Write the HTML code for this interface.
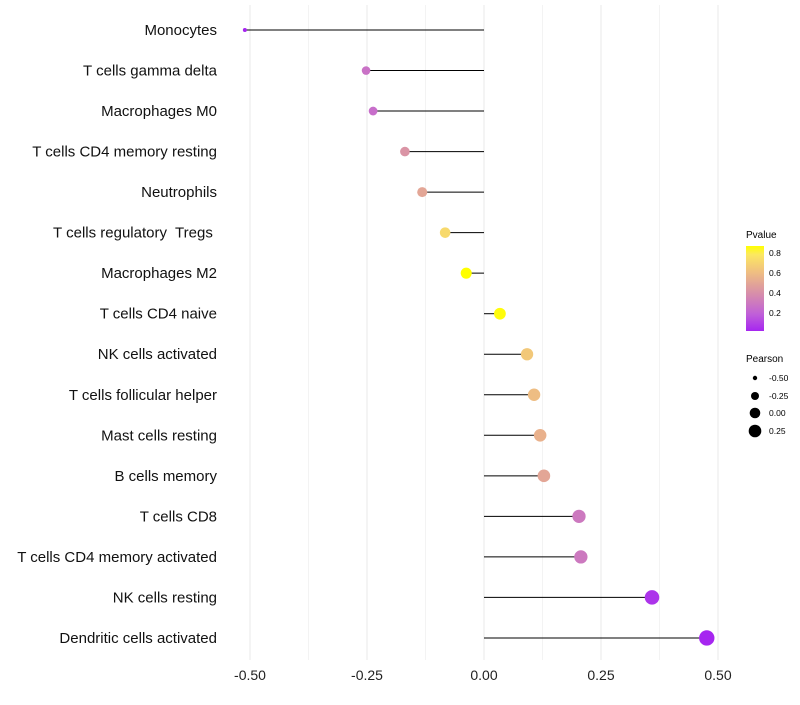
<!DOCTYPE html>
<html><head><meta charset="utf-8"><style>
body{margin:0;background:#fff;font-family:"Liberation Sans",sans-serif}
svg text{font-family:"Liberation Sans",sans-serif;white-space:pre}
</style></head><body>
<svg id="chart" width="800" height="700">
<defs><linearGradient id="pg" x1="0" y1="1" x2="0" y2="0">
<stop offset="0" stop-color="#A626F0"/><stop offset="0.2" stop-color="#C060D8"/><stop offset="0.45" stop-color="#D890A8"/><stop offset="0.7" stop-color="#F0C080"/><stop offset="0.9" stop-color="#FCE860"/><stop offset="1" stop-color="#FFFF00"/></linearGradient></defs>
<g id="grid"></g><g id="marks"></g><g id="ylab"></g><g id="xlab"></g>
<g>
<text x="746" y="238" font-size="10" fill="#000">Pvalue</text>
<rect x="746" y="246" width="18" height="85" fill="url(#pg)"/>
<text x="769" y="256" font-size="8.5">0.8</text><text x="769" y="276" font-size="8.5">0.6</text>
<text x="769" y="296" font-size="8.5">0.4</text><text x="769" y="316" font-size="8.5">0.2</text>
</g>
<g>
<text x="746" y="362" font-size="10">Pearson</text>
<circle cx="755" cy="378" r="2.2"/><text x="769" y="381" font-size="8.5">-0.50</text>
<circle cx="755" cy="396" r="4"/><text x="769" y="399" font-size="8.5">-0.25</text>
<circle cx="755" cy="413" r="5.3"/><text x="769" y="416" font-size="8.5">0.00</text>
<circle cx="755" cy="431" r="6.3"/><text x="769" y="434" font-size="8.5">0.25</text>
</g>
</svg>
<script>
const cells=["Monocytes","T cells gamma delta","Macrophages M0","T cells CD4 memory resting","Neutrophils","T cells regulatory  Tregs ","Macrophages M2","T cells CD4 naive","NK cells activated","T cells follicular helper","Mast cells resting","B cells memory","T cells CD8","T cells CD4 memory activated","NK cells resting","Dendritic cells activated"];
const pearson=[-0.511,-0.252,-0.237,-0.169,-0.132,-0.083,-0.038,0.034,0.092,0.107,0.120,0.128,0.203,0.207,0.359,0.476];
const pvalue=[0.02,0.27,0.25,0.42,0.5,0.72,0.87,0.86,0.65,0.6,0.55,0.5,0.3,0.3,0.06,0.02];
const xticks=[-0.5,-0.25,0,0.25,0.5];
const xtickLabels=["-0.50","-0.25","0.00","0.25","0.50"];
const NS="http://www.w3.org/2000/svg";
const xs=v=>484+v*468;
const ys=i=>30+i*40.53;
const rs=v=>Math.sqrt(4+(v+0.511)*56);
const stops=[[0,[166,38,240]],[0.2,[192,96,216]],[0.45,[216,144,168]],[0.7,[240,192,128]],[0.9,[252,232,96]],[1,[255,255,0]]];
function col(p){let t=Math.max(0,Math.min(1,(p-0.02)/0.85));for(let k=1;k<stops.length;k++){if(t<=stops[k][0]){const a=stops[k-1],b=stops[k],f=(t-a[0])/(b[0]-a[0]);return "rgb("+a[1].map((c,j)=>Math.round(c+(b[1][j]-c)*f)).join(",")+")";}}return "rgb(255,255,0)";}
function mk(t,a,p){const e=document.createElementNS(NS,t);for(const k in a)e.setAttribute(k,a[k]);p.appendChild(e);return e;}
const grid=document.getElementById('grid'),marks=document.getElementById('marks'),yl=document.getElementById('ylab'),xl=document.getElementById('xlab');
for(let v=-0.5;v<=0.5001;v+=0.125){const g=mk('line',{x1:xs(v),x2:xs(v),y1:5,y2:660,stroke:'#ebebeb','stroke-width':Math.abs(v*8)%2<0.01?1.1:0.6},grid);

}
xticks.forEach((v,i)=>{const t=mk('text',{x:xs(v),y:680,'text-anchor':'middle','font-size':14,fill:'#222'},xl);t.textContent=xtickLabels[i];

});
cells.forEach((c,i)=>{const y=ys(i);
const l=mk('line',{x1:xs(0),x2:xs(pearson[i]),y1:y,y2:y,stroke:'#000','stroke-width':1},marks);


const p=mk('circle',{cx:xs(pearson[i]),cy:y,r:rs(pearson[i]),fill:col(pvalue[i])},marks);


const t=mk('text',{x:217,y:y+5,'text-anchor':'end','font-size':15,fill:'#111','xml:space':'preserve'},yl);t.textContent=c;

});
</script>
</body></html>
